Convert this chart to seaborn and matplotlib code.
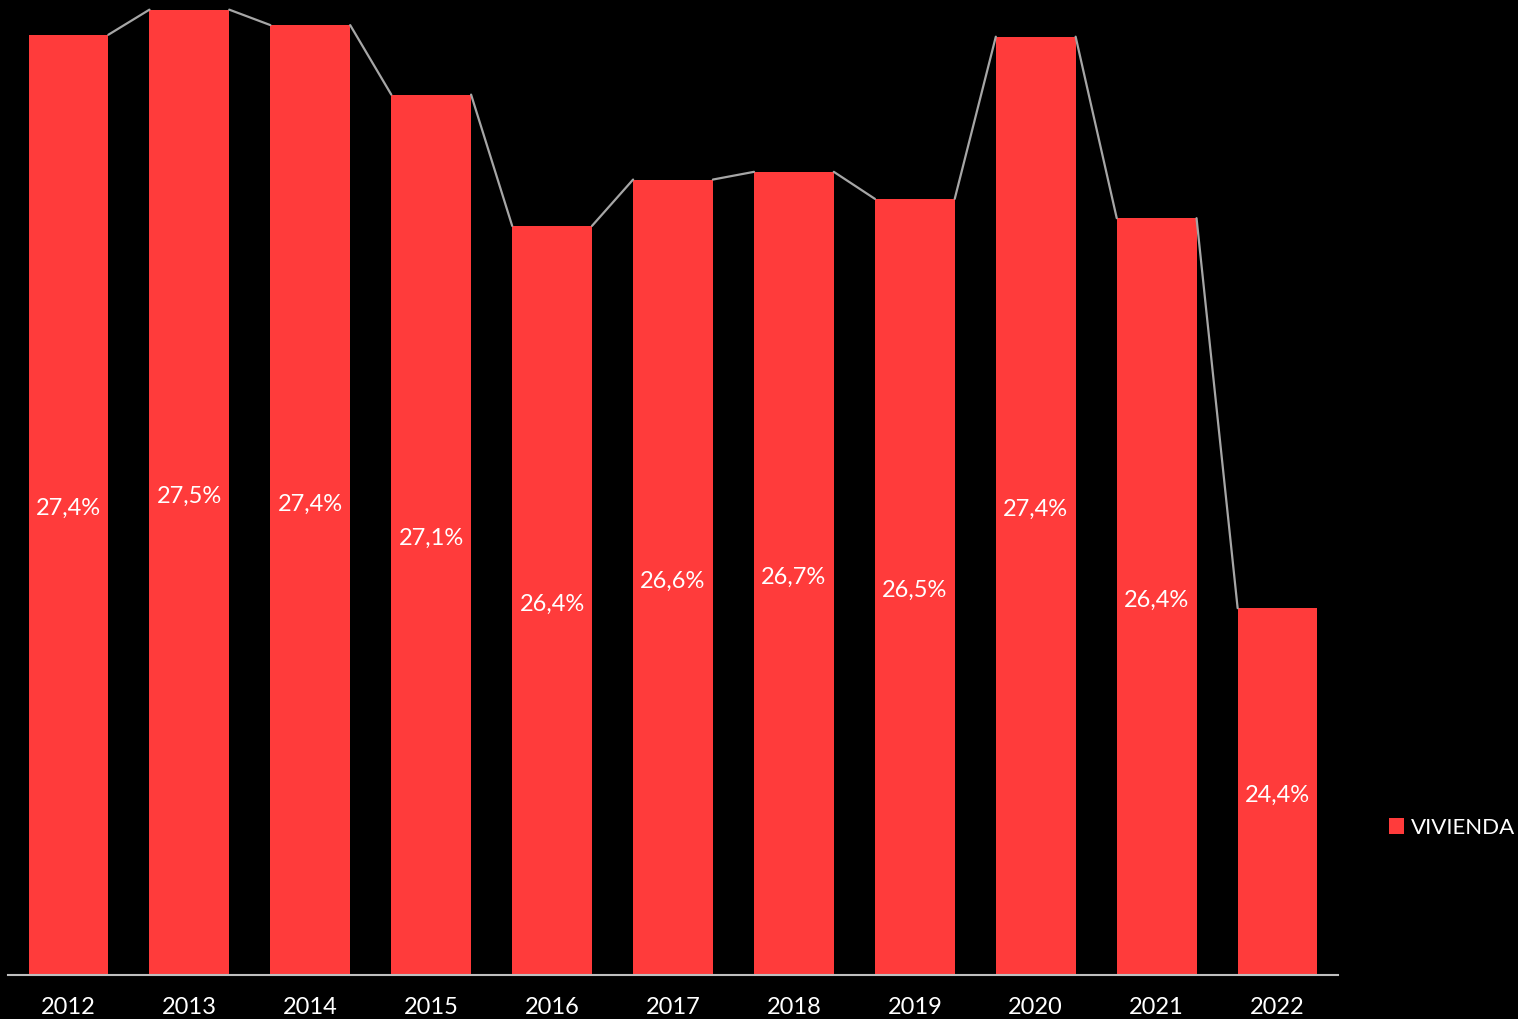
import matplotlib
matplotlib.use('Agg')
import matplotlib.pyplot as plt
import seaborn as sns
import pandas as pd

years = ['2012', '2013', '2014', '2015', '2016', '2017', '2018', '2019', '2020', '2021', '2022']
vivienda = [27.37, 27.50, 27.42, 27.06, 26.38, 26.62, 26.66, 26.52, 27.36, 26.42, 24.40]

bar_color = '#FF3B3B'
bar_width = 0.66

df = pd.DataFrame({'year': years, 'value': vivienda})

sns.set_style('dark')
plt.rcParams['font.family'] = ['Lato', 'DejaVu Sans']

fig = plt.figure(figsize=(15.18, 10.19), dpi=100, facecolor='black')
ax = fig.add_axes([8 / 1518, 44 / 1019, 1330 / 1518, 975 / 1019])
ax.set_facecolor('black')

sns.barplot(data=df, x='year', y='value', color=bar_color, width=bar_width,
            saturation=1, ax=ax, label='VIVIENDA', edgecolor='none', linewidth=0)

# lines joining the tops of neighbouring bars
for i in range(len(vivienda) - 1):
    ax.plot([i + bar_width / 2, i + 1 - bar_width / 2], [vivienda[i], vivienda[i + 1]],
            color='#A6A6A6', lw=1.6, zorder=3)

ymin, ymax = 22.5, 27.55
ax.set_ylim(ymin, ymax)
ax.set_xlim(-0.5, len(years) - 0.5)

# value labels in the middle of the visible bar
for i, v in enumerate(vivienda):
    txt = f'{v:.1f}'.replace('.', ',') + '%'
    ax.text(i, (ymin + v) / 2 - 0.02, txt, ha='center', va='center', color='white', fontsize=17)

for s in ['top', 'right', 'left']:
    ax.spines[s].set_visible(False)
ax.spines['bottom'].set_color('#BFBFBF')
ax.spines['bottom'].set_linewidth(1.5)
ax.grid(False)
ax.set_yticks([])
ax.set_xlabel('')
ax.set_ylabel('')
ax.tick_params(axis='x', colors='white', labelsize=17, length=0, pad=16)

leg = fig.legend(loc='center left', bbox_to_anchor=(1380 / 1518, 1 - 828 / 1019),
                 frameon=False, fontsize=16, handlelength=0.7, handleheight=0.7,
                 handletextpad=0.3, borderaxespad=0)
for t in leg.get_texts():
    t.set_color('white')
if ax.get_legend():
    ax.get_legend().remove()

fig.savefig('out.png', dpi=100, facecolor='black')
